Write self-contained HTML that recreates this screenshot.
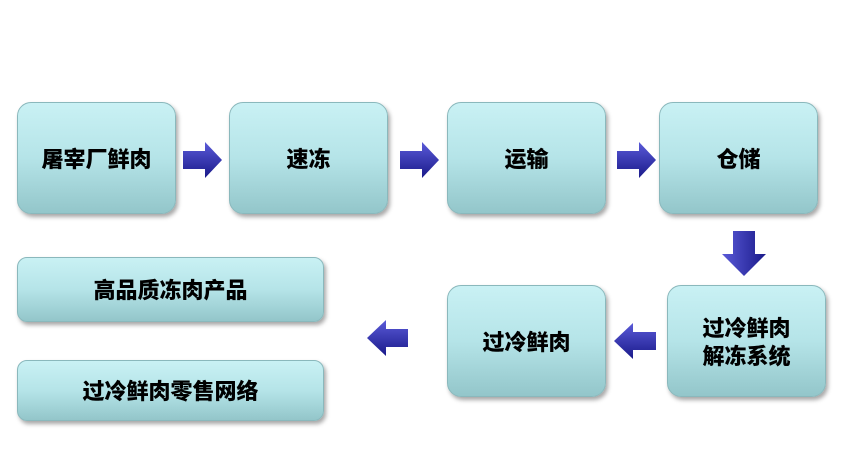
<!DOCTYPE html>
<html><head><meta charset="utf-8"><style>
body{margin:0;width:842px;height:454px;background:#fff;position:relative;overflow:hidden;font-family:"Liberation Sans","Noto Sans CJK SC",sans-serif}
.b{position:absolute;box-sizing:border-box;border-radius:14px;background:linear-gradient(#c9f1f4 0%,#b5e4e8 50%,#93c6ca 100%);border:1px solid #8ab8bc;box-shadow:2px 3px 4px rgba(0,0,0,.35);display:flex;align-items:center;justify-content:center;text-align:center;font-weight:900;font-size:22px;line-height:28px;color:#000;padding-top:3px}
svg{position:absolute}
</style></head><body>
<div class="b" style="left:17px;top:102px;width:159px;height:112px">屠宰厂鲜肉</div>
<div class="b" style="left:229px;top:102px;width:159px;height:112px">速冻</div>
<div class="b" style="left:447px;top:102px;width:159px;height:112px">运输</div>
<div class="b" style="left:659px;top:102px;width:159px;height:112px">仓储</div>
<div class="b" style="left:667px;top:285px;width:159px;height:112px">过冷鲜肉<br>解冻系统</div>
<div class="b" style="left:447px;top:285px;width:159px;height:112px">过冷鲜肉</div>
<div class="b" style="left:17px;top:257px;width:307px;height:65px;border-radius:10px">高品质冻肉产品</div>
<div class="b" style="left:17px;top:360px;width:307px;height:61px;border-radius:10px">过冷鲜肉零售网络</div>
<svg width="842" height="454" style="left:0;top:0">
<defs><linearGradient id="g" x1="0" y1="0" x2="0" y2="1"><stop offset="0" stop-color="#5a5ad8"/><stop offset="1" stop-color="#1a1a8a"/></linearGradient>
<linearGradient id="gv" x1="0" y1="0" x2="1" y2="0"><stop offset="0" stop-color="#5a5ad8"/><stop offset="1" stop-color="#1a1a8a"/></linearGradient></defs>
<g fill="url(#g)">
<polygon points="183,151 205,151 205,142 222,160 205,178 205,169 183,169"/>
<polygon points="400,151 422,151 422,142 439,160 422,178 422,169 400,169"/>
<polygon points="617,151 639,151 639,142 656,160 639,178 639,169 617,169"/>
<polygon points="656,332 633,332 633,323 614,341 633,359 633,350 656,350"/>
<polygon points="408,329 386,329 386,320 367,338 386,356 386,347 408,347"/>
</g>
<polygon fill="url(#gv)" points="733,231 755,231 755,254 766,254 744,276 722,254 733,254"/>
</svg>
</body></html>
